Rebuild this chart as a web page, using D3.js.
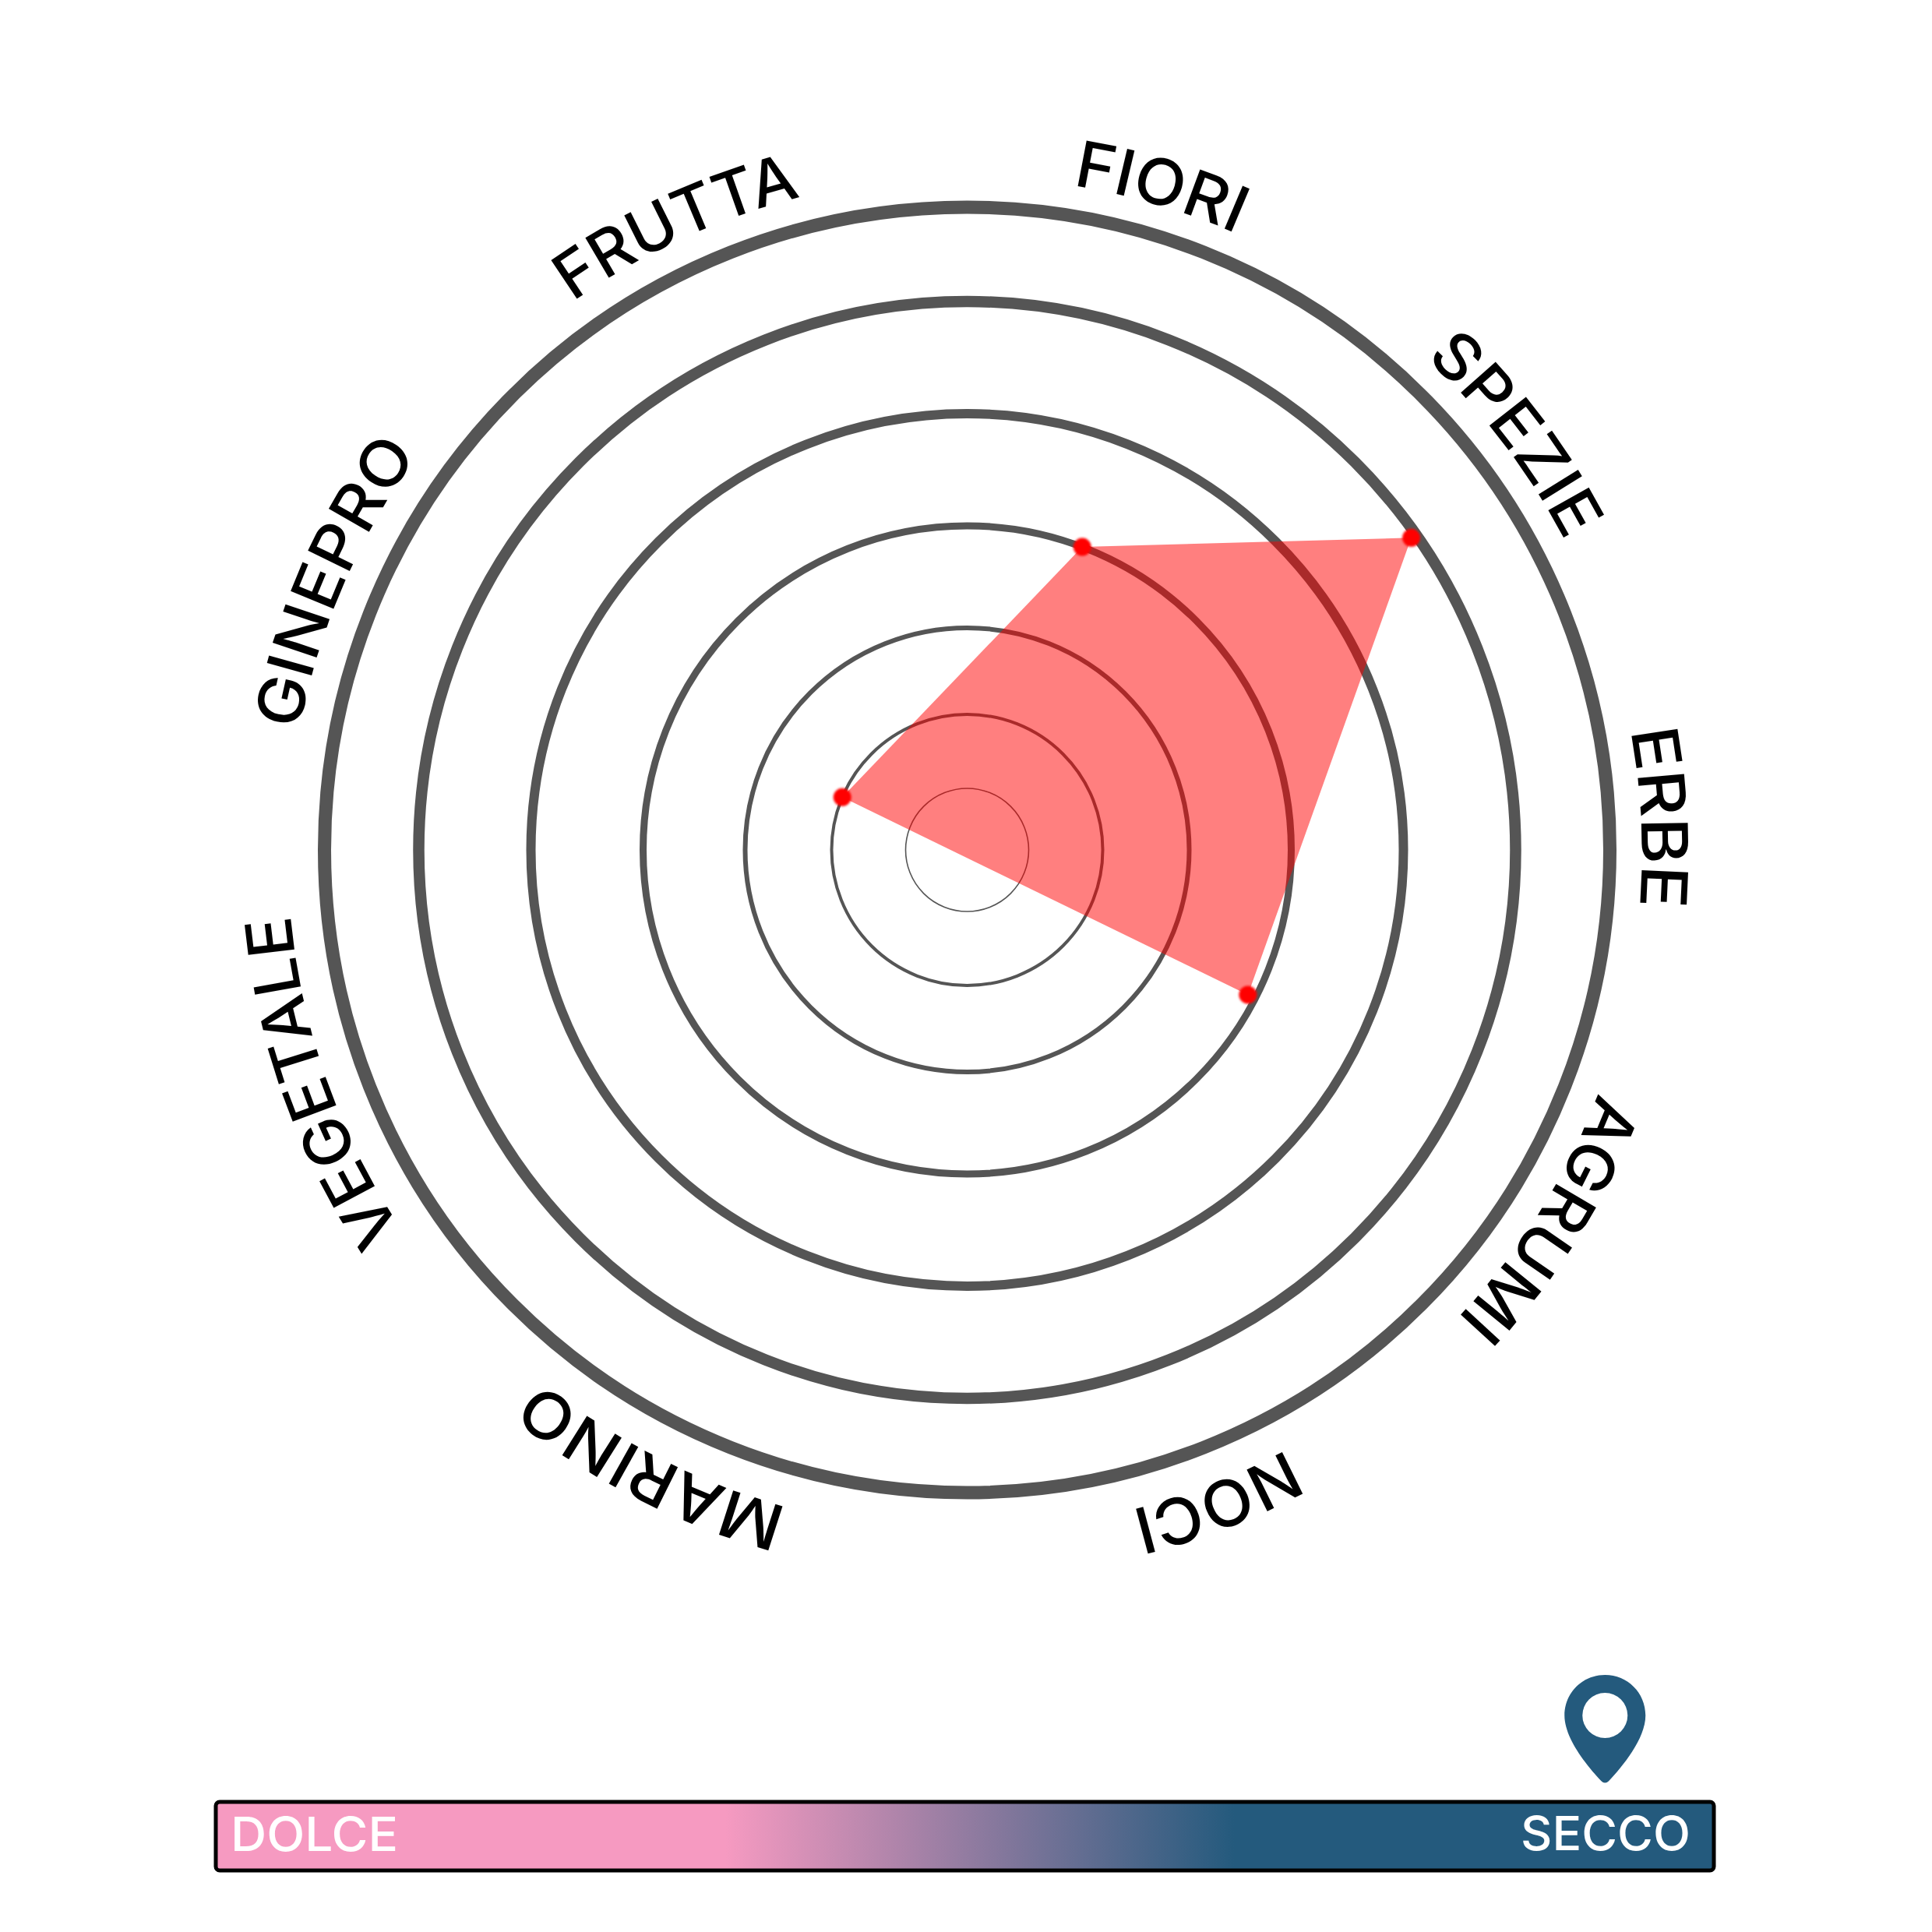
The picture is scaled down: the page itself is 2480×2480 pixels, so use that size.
<!DOCTYPE html>
<html><head><meta charset="utf-8">
<script src="https://cdnjs.cloudflare.com/ajax/libs/d3/7.8.5/d3.min.js"></script>
<style>html,body{margin:0;background:#fff}svg{display:block}</style></head>
<body><svg id="c" width="2480" height="2480"></svg>
<script>
const categories=["FIORI","SPEZIE","ERBE","AGRUMI","NOCI","MARINO","VEGETALE","GINEPRO","FRUTTA"];
const categoryAngles=[16.4,52.7,87,122,158.7,207,250.5,293.3,335.3];
const categorySpans=[14.5,19.6,15,22.7,14.2,23.7,28.6,25.6,21.4];
const levels=[1,2,3,4,5,6,7];
const levelRadii=[79,174,285,416,560,704,825];
const levelWidths=[1.6,4,6,9,12,14.5,17];
const pointAngles=[20.8,54.9,117.3,292.9];
const pointValues=[4,5.95,3.92,2];
const scaleLabels=["DOLCE","SECCO"];
const drynessValue=92.6;

const cx=1241.5,cy=1091;
const svg=d3.select("#c");
const defs=svg.append("defs");
const r=d3.scaleLinear().domain(levels).range(levelRadii);
const a=d3.scaleLinear().domain([0,360]).range([0,2*Math.PI]);
const g=svg.append("g").attr("transform",`translate(${cx},${cy})`);

g.selectAll("circle.ring").data(levels).join("circle").attr("class","ring")
 .attr("r",d=>r(d)).attr("fill","none").attr("stroke","#555")
 .attr("stroke-width",(d,i)=>levelWidths[i]);

const pts=pointAngles.map((p,i)=>[a(p),r(pointValues[i])]);
g.append("path").attr("d",d3.lineRadial().curve(d3.curveLinearClosed)(pts))
 .attr("fill","#ff0000").attr("fill-opacity",.5);
defs.append("filter").attr("id","soft").append("feGaussianBlur").attr("stdDeviation",1.5);
g.selectAll("circle.pt").data(pts).join("circle").attr("class","pt")
 .attr("cx",d=>d[1]*Math.sin(d[0])).attr("cy",d=>-d[1]*Math.cos(d[0]))
 .attr("r",11.5).attr("fill","#ff0000").attr("filter","url(#soft)");

const labelR=869;
const lg=g.append("g").attr("transform","translate(-3,5)");
categories.forEach((c,i)=>{
  const mid=categoryAngles[i]-90;
  const p=d3.path();
  p.arc(0,0,labelR,(mid-60)*Math.PI/180,(mid+60)*Math.PI/180,false);
  defs.append("path").attr("id","lp"+i).attr("d",p.toString());
  lg.append("text").attr("font-family","Inter").attr("font-weight",500).attr("font-size",82)
   .attr("fill","#000").attr("text-anchor","middle")
   .append("textPath").attr("href","#lp"+i).attr("startOffset","50%")
   .attr("textLength",categorySpans[i]*Math.PI/180*labelR).attr("lengthAdjust","spacingAndGlyphs").text(c);
});

// sweetness bar
const barX=274,barW=1929,barY=2311,barH=92;
const x=d3.scaleLinear().domain([0,100]).range([barX,barX+barW]);
const grad=defs.append("linearGradient").attr("id","bar");
[[0.34,"#f69ac1"],[0.68,"#245a7d"]].forEach(s=>grad.append("stop").attr("offset",s[0]).attr("stop-color",s[1]));
svg.append("rect").attr("x",barX+3).attr("y",barY+2).attr("width",barW-6).attr("height",barH-4)
 .attr("rx",5).attr("fill","url(#bar)").attr("stroke","#000").attr("stroke-width",5);
svg.append("text").attr("x",296).attr("y",2376).attr("font-family","Inter").attr("font-size",61).attr("font-weight",500)
 .attr("fill","#fff").attr("textLength",215).attr("lengthAdjust","spacingAndGlyphs").text(scaleLabels[0]);
svg.append("text").attr("x",1952).attr("y",2375).attr("font-family","Inter").attr("font-size",61).attr("font-weight",500)
 .attr("fill","#fff").attr("textLength",218).attr("lengthAdjust","spacingAndGlyphs").text(scaleLabels[1]);

// pin
const pin=svg.append("g").attr("transform",`translate(${x(drynessValue)},2202)`);
pin.append("path").attr("fill-rule","evenodd").attr("fill","#245a7d").attr("d",
 "M0,-52 C29,-52 52,-29 52,0 C52,30 22,66 5,84 Q0,89 -5,84 C-22,66 -52,30 -52,0 C-52,-29 -29,-52 0,-52 Z"+
 "M0,-29 A29,29 0 1,0 0,29 A29,29 0 1,0 0,-29 Z");
</script></body></html>
